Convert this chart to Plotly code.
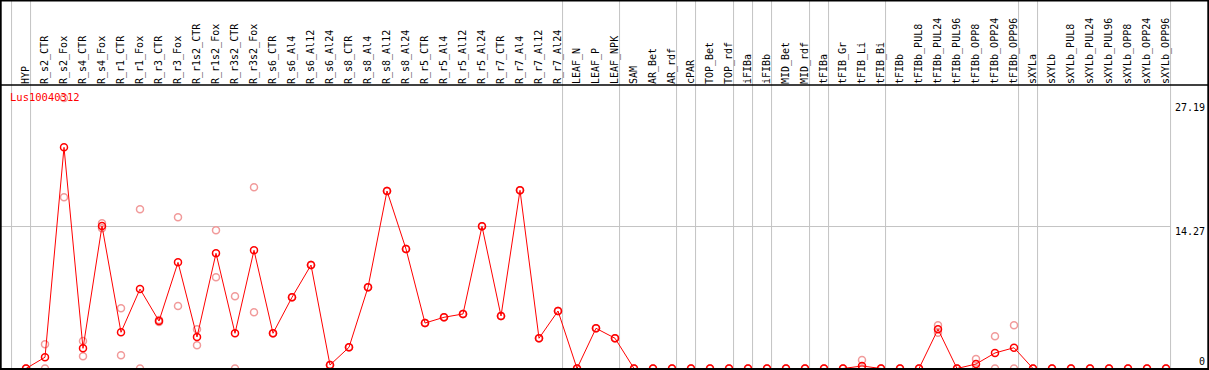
import plotly.graph_objects as go

categories = ["HYP", "R_s2_CTR", "R_s2_Fox", "R_s4_CTR", "R_s4_Fox", "R_r1_CTR", "R_r1_Fox",
              "R_r3_CTR", "R_r3_Fox", "R_r1s2_CTR", "R_r1s2_Fox", "R_r3s2_CTR", "R_r3s2_Fox",
              "R_s6_CTR", "R_s6_Al4", "R_s6_Al12", "R_s6_Al24", "R_s8_CTR", "R_s8_Al4",
              "R_s8_Al12", "R_s8_Al24", "R_r5_CTR", "R_r5_Al4", "R_r5_Al12", "R_r5_Al24",
              "R_r7_CTR", "R_r7_Al4", "R_r7_Al12", "R_r7_Al24", "LEAF_N", "LEAF_P", "LEAF_NPK",
              "SAM", "AR_Bet", "AR_rdf", "cPAR", "TOP_Bet", "TOP_rdf", "iFIBa", "iFIBb",
              "MID_Bet", "MID_rdf", "tFIBa", "tFIB_Gr", "tFIB_Li", "tFIB_Bi", "tFIBb",
              "tFIBb_PUL8", "tFIBb_PUL24", "tFIBb_PUL96", "tFIBb_OPP8", "tFIBb_OPP24",
              "tFIBb_OPP96", "sXYLa", "sXYLb", "sXYLb_PUL8", "sXYLb_PUL24", "sXYLb_PUL96",
              "sXYLb_OPP8", "sXYLb_OPP24", "sXYLb_OPP96"]

mean_values = [0, 1.13, 22.23, 2.03, 14.32, 3.64, 7.99, 4.77, 10.67, 3.17, 11.58, 3.54, 11.88,
               3.54, 7.16, 10.40, 0.35, 2.13, 8.16, 17.84, 12.01, 4.57, 5.15, 5.48, 14.29,
               5.28, 17.91, 3.04, 5.78, 0, 4.04, 3.04,
               0, 0, 0, 0, 0, 0, 0, 0, 0, 0, 0, 0, 0.25, 0, 0,
               0, 3.94, 0, 0.45, 1.56, 2.09, 0, 0, 0, 0, 0, 0, 0, 0]

rep1_values = [0, 2.43, 17.21, 2.76, 14.59, 6.05, 16.0, 4.87, 15.2, 3.94, 13.89, 7.26, 18.21,
               3.54, 7.16, 10.40, 0.35, 2.13, 8.16, 17.84, 12.01, 4.57, 5.15, 5.48, 14.29,
               5.28, 17.91, 3.04, 5.78, 0, 4.04, 3.04,
               0, 0, 0, 0, 0, 0, 0, 0, 0, 0, 0, 0, 0.85, 0, 0,
               0, 4.34, 0, 0.95, 3.24, 4.34, 0, 0, 0, 0, 0, 0, 0, 0]

rep2_values = [0, 0, 27.19, 1.23, 14.09, 1.33, 0, 4.67, 6.28, 2.33, 9.17, 0, 5.65,
               3.54, 7.16, 10.40, 0.35, 2.13, 8.16, 17.84, 12.01, 4.57, 5.15, 5.48, 14.29,
               5.28, 17.91, 3.04, 5.78, 0, 4.04, 3.04,
               0, 0, 0, 0, 0, 0, 0, 0, 0, 0, 0, 0, 0, 0, 0,
               0, 3.6, 0, 0, 0, 0, 0, 0, 0, 0, 0, 0, 0, 0]

# group separators drawn after these category indices
separator_after = [-1, 0, 28, 31, 34, 35, 37, 38, 39, 41, 42, 45, 52, 53, 60]

ytick_values = [0, 14.27, 27.19]
ytick_labels = ["0", "14.27", "27.19"]
title_text = "Lus10040312"

W, H = 1209, 370
TOP, BOTTOM = 85, 1
xs = list(range(len(categories)))

px_per_cat = 19.0
x_first_px = 26.0
xmin = -x_first_px / px_per_cat
xmax = xmin + W / px_per_cat

plot_h = H - TOP - BOTTOM
y_scale = 270.5 / 27.19
ymin = -0.5 / y_scale
ymax = ymin + plot_h / y_scale
top_paper = 1 + TOP / plot_h

mono = "DejaVu Sans Mono"
fig = go.Figure()

fig.add_trace(go.Scatter(x=xs, y=rep1_values, mode="markers", hoverinfo="skip",
                         marker=dict(symbol="circle-open", size=7, color="#f19a9a",
                                     line=dict(width=1.5, color="#f19a9a"))))
fig.add_trace(go.Scatter(x=xs, y=rep2_values, mode="markers", hoverinfo="skip",
                         marker=dict(symbol="circle-open", size=7, color="#f19a9a",
                                     line=dict(width=1.5, color="#f19a9a"))))
fig.add_trace(go.Scatter(x=xs, y=mean_values, mode="lines+markers",
                         line=dict(color="#ff0000", width=1),
                         marker=dict(symbol="circle-open", size=7, color="#ff0000",
                                     line=dict(width=1.5, color="#ff0000"))))

shapes = []
for s in separator_after:
    shapes.append(dict(type="line", xref="x", yref="paper", x0=s + 0.24, x1=s + 0.24,
                       y0=0, y1=top_paper, line=dict(color="#c4c4c4", width=1), layer="below"))
shapes.append(dict(type="line", xref="x", yref="y", x0=xmin, x1=separator_after[-1] + 0.24,
                   y0=ytick_values[1], y1=ytick_values[1],
                   line=dict(color="#c4c4c4", width=1), layer="below"))
# borders
shapes.append(dict(type="line", xref="paper", yref="paper", x0=0, x1=1, y0=1, y1=1,
                   line=dict(color="black", width=1.5)))
shapes.append(dict(type="rect", xref="paper", yref="paper", x0=0.8 / W, x1=1 - 0.8 / W,
                   y0=0, y1=top_paper - 0.5 / plot_h, line=dict(color="black", width=1.8)))

label_shift = {"0": 7, "14.27": -5, "27.19": -9}
annotations = []
for v, t in zip(ytick_values, ytick_labels):
    annotations.append(dict(x=1, xref="paper", y=v, yref="y", text=t, showarrow=False,
                            xanchor="right", yanchor="middle", xshift=-2,
                            yshift=label_shift[t],
                            font=dict(family=mono, size=10, color="black")))

fig.update_layout(
    width=W, height=H,
    margin=dict(l=0, r=0, t=TOP, b=BOTTOM, pad=0),
    paper_bgcolor="white", plot_bgcolor="white",
    showlegend=False,
    title=dict(text=title_text, xref="container", yref="container",
               x=10 / W, y=1 - 97 / H, xanchor="left", yanchor="middle",
               font=dict(family=mono, size=10.5, color="#ff0000")),
    xaxis=dict(range=[xmin, xmax], side="top", tickmode="array", tickvals=xs,
               ticktext=categories, tickangle=-90, showgrid=False, zeroline=False,
               ticks="", showline=False, automargin=False,
               tickfont=dict(family=mono, size=10, color="black")),
    yaxis=dict(range=[ymin, ymax], showgrid=False, zeroline=False, showticklabels=False,
               ticks="", showline=False, automargin=False),
    shapes=shapes,
    annotations=annotations,
)

fig.write_html("out.html", config={"displayModeBar": False},
               post_script="document.body.style.margin='0px';document.body.style.padding='0px';")
